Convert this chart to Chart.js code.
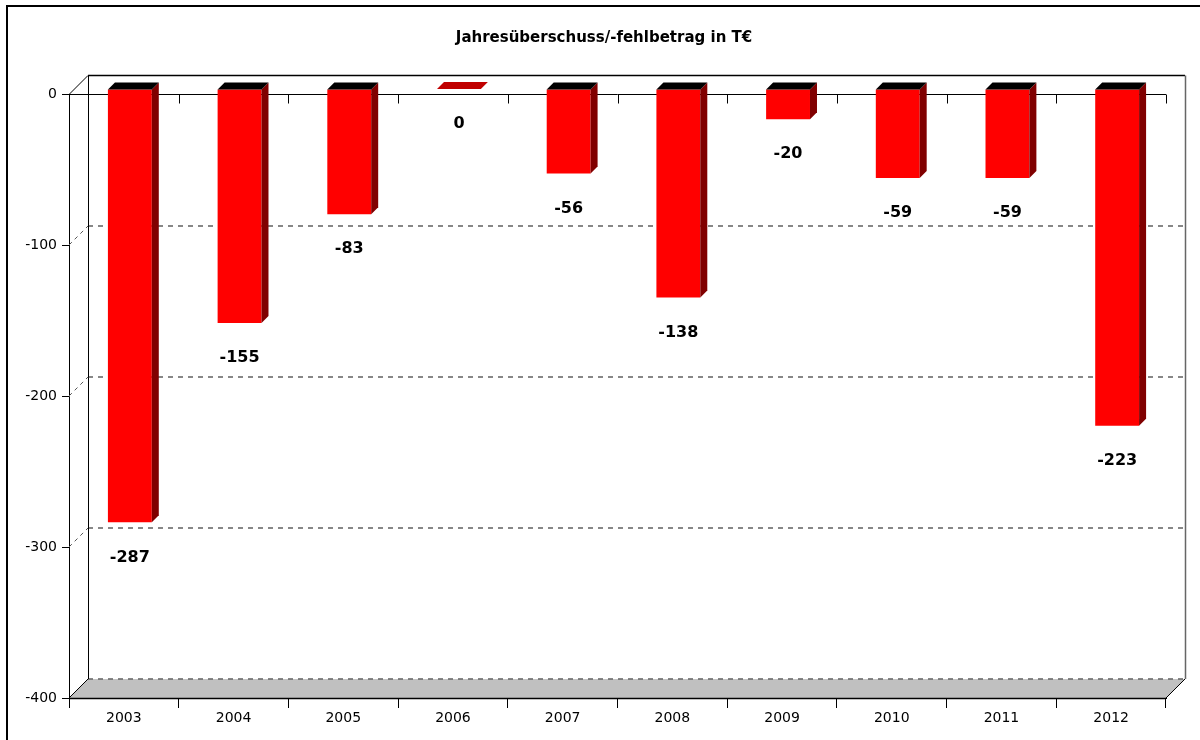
<!DOCTYPE html>
<html>
<head>
<meta charset="utf-8">
<script src="https://cdn.jsdelivr.net/npm/chart.js@4/dist/chart.umd.min.js"></script>
<style>
    html, body { margin: 0; padding: 0; background: #fff; }
    #wrap { width: 1200px; height: 740px; }
</style>
</head>
<body>
<div id="wrap"><canvas id="chart" width="1200" height="740"></canvas></div>
<script>
// Werte aus der Grafik
const years = ['2003', '2004', '2005', '2006', '2007', '2008', '2009', '2010', '2011', '2012'];
const results = [-287, -155, -83, 0, -56, -138, -20, -59, -59, -223];
const yMin = -400;
const yMax = 0;
const yStep = 100;
const chartTitle = 'Jahresüberschuss/-fehlbetrag in T€';

const FONT = 'DejaVu Sans';
const WALL = 19;      // Tiefe der Rückwand
const BAR_DX = 6;     // Versatz der Säulen nach hinten
const BAR_DY = 5;
const BAR_DEPTH = 7;  // Tiefe der Säulen

function poly(ctx, pts, fill, stroke) {
    ctx.beginPath();
    ctx.moveTo(pts[0][0], pts[0][1]);
    for (let i = 1; i < pts.length; i++) ctx.lineTo(pts[i][0], pts[i][1]);
    ctx.closePath();
    if (fill) { ctx.fillStyle = fill; ctx.fill(); }
    if (stroke) { ctx.strokeStyle = stroke; ctx.lineWidth = 1; ctx.stroke(); }
}

function line(ctx, x1, y1, x2, y2, color, dash, width) {
    ctx.save();
    ctx.beginPath();
    ctx.setLineDash(dash || []);
    ctx.strokeStyle = color;
    ctx.lineWidth = width || 1;
    ctx.moveTo(x1, y1);
    ctx.lineTo(x2, y2);
    ctx.stroke();
    ctx.restore();
}

/**
 * Rahmen, Rückwand, Boden und 3D-Säulen
 */
const threeD = {
    id: 'threeD',
    beforeDraw(chart) {
        const ctx = chart.ctx;
        ctx.save();
        ctx.strokeStyle = '#000';
        ctx.lineWidth = 2;
        ctx.beginPath();
        ctx.moveTo(7, 740);
        ctx.lineTo(7, 6);
        ctx.lineTo(1200, 6);
        ctx.stroke();
        ctx.restore();
    },
    beforeDatasetsDraw(chart) {
        const {ctx, chartArea, scales} = chart;
        const {left, right, bottom} = chartArea;
        const x = scales.x, y = scales.y;

        // Boden
        poly(ctx, [[left, bottom], [left + WALL, bottom - WALL], [right + WALL, bottom - WALL], [right, bottom]], '#c0c0c0');
        line(ctx, left, bottom + 0.5, right, bottom + 0.5, '#000', null, 1.5);
        line(ctx, right, bottom, right + WALL, bottom - WALL, '#000');
        line(ctx, left, bottom, left + WALL, bottom - WALL, '#000');

        // Gitterlinien an der Rückwand
        for (let v = yMin; v < yMax; v += yStep) {
            const py = Math.round(y.getPixelForValue(v));
            line(ctx, left + WALL, py - WALL, right + WALL, py - WALL, '#6a6a6a', [5, 5], 1.6);
            if (v !== yMin) line(ctx, left, py, left + WALL, py - WALL, '#555', [4, 4]);
        }

        // Rückwand
        const topY = Math.round(y.getPixelForValue(yMax)) + 0.5;
        line(ctx, left + WALL + 0.5, topY - WALL, left + WALL + 0.5, bottom - WALL, '#000');
        line(ctx, left + WALL, topY - WALL, right + WALL, topY - WALL, '#000', null, 1.3);
        line(ctx, right + WALL + 0.5, topY - WALL, right + WALL + 0.5, bottom - WALL, '#666', null, 1.5);
        line(ctx, left, topY, left + WALL, topY - WALL, '#000');

        // Nulllinie mit Teilstrichen
        const zeroY = Math.round(y.getPixelForValue(0)) + 0.5;
        line(ctx, left, zeroY, right, zeroY, '#000');
        const n = years.length;
        for (let i = 1; i <= n; i++) {
            const bx = i === n ? right : (x.getPixelForValue(i - 1) + x.getPixelForValue(i)) / 2;
            const px = Math.round(bx) + 0.5;
            line(ctx, px, zeroY, px, zeroY + 9, '#000');
        }

        ctx.save();
        ctx.translate(BAR_DX, -BAR_DY);
    },
    afterDatasetsDraw(chart) {
        const ctx = chart.ctx;
        ctx.restore();

        const meta = chart.getDatasetMeta(0);
        meta.data.forEach((bar, i) => {
            const p = bar.getProps(['x', 'y', 'base', 'width'], true);
            const l = p.x - p.width / 2 + BAR_DX;
            const r = p.x + p.width / 2 + BAR_DX;
            const t = Math.min(p.y, p.base) - BAR_DY;
            const b = Math.max(p.y, p.base) - BAR_DY;
            const d = BAR_DEPTH;
            if (results[i] !== 0) {
                poly(ctx, [[r, t], [r + d, t - d], [r + d, b - d], [r, b]], '#800000');
                poly(ctx, [[l, t], [l + d, t - d], [r + d, t - d], [r, t]], '#000000');
            } else {
                poly(ctx, [[l, t], [l + d, t - d], [r + d, t - d], [r, t]], '#c00000');
            }

            // Datenbeschriftung
            ctx.save();
            ctx.fillStyle = '#000';
            ctx.font = 'bold 16px "' + FONT + '"';
            ctx.textAlign = 'center';
            ctx.textBaseline = 'middle';
            ctx.fillText(String(results[i]), (l + r) / 2, b + 35);
            ctx.restore();
        });
    }
};

new Chart(document.getElementById('chart'), {
    type: 'bar',
    data: {
        labels: years,
        datasets: [{
            data: results,
            backgroundColor: '#ff0000',
            borderWidth: 0,
            categoryPercentage: 1,
            barPercentage: 0.4,
            clip: false
        }]
    },
    options: {
        responsive: false,
        animation: false,
        events: [],
        layout: {padding: {left: 8, right: 0, top: 0, bottom: 0}},
        plugins: {
            legend: {display: false},
            tooltip: {enabled: false},
            title: {
                display: true,
                text: chartTitle,
                color: '#000',
                font: {family: FONT, size: 15, weight: 'bold'},
                padding: {top: 29, bottom: 47}
            }
        },
        scales: {
            x: {
                grid: {display: true, drawOnChartArea: false, drawTicks: true, tickLength: 10, color: '#000', offset: true},
                border: {display: true, color: '#000'},
                ticks: {color: '#000', font: {family: FONT, size: 14}, padding: 2, maxRotation: 0},
                afterFit(s) { s.height = 42; }
            },
            y: {
                min: yMin,
                max: yMax,
                grid: {display: true, drawOnChartArea: false, drawTicks: true, tickLength: 7, color: '#000'},
                border: {display: true, color: '#000'},
                ticks: {stepSize: yStep, color: '#000', font: {family: FONT, size: 14}, padding: 5},
                afterFit(s) { s.width = 61; }
            },
            y2: {
                position: 'right',
                display: true,
                grid: {display: false},
                border: {display: false},
                ticks: {display: false},
                afterFit(s) { s.width = 34; }
            }
        }
    },
    plugins: [threeD]
});
</script>
</body>
</html>
